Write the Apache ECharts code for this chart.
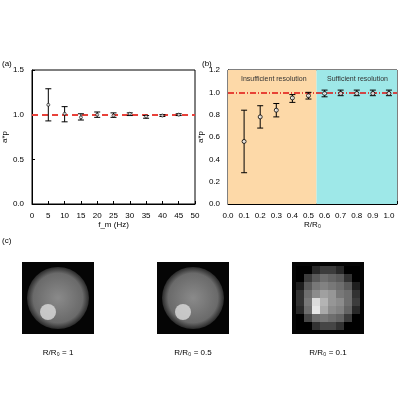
<!DOCTYPE html><html><head><meta charset="utf-8"><script src="https://cdn.jsdelivr.net/npm/echarts@6/dist/echarts.min.js"></script>
<style>body{margin:0}#c{width:400px;height:400px}</style></head><body><div id="c"></div><script>
const fA=[5,10,15,20,25,30,35,40,45];
const meanA=[1.11,1.01,0.97,1.00,0.99,1.01,0.98,0.99,1.00];
const lowA=[0.93,0.92,0.94,0.97,0.97,0.99,0.96,0.98,0.99];
const highA=[1.29,1.09,1.01,1.03,1.02,1.02,0.99,1.00,1.01];
const rB=[0.1,0.2,0.3,0.4,0.5,0.6,0.7,0.8,0.9,1.0];
const meanB=[0.56,0.78,0.84,0.95,0.97,0.99,0.99,0.99,0.99,0.99];
const lowB=[0.28,0.68,0.78,0.91,0.94,0.96,0.97,0.97,0.97,0.97];
const highB=[0.84,0.88,0.90,0.98,1.00,1.02,1.02,1.02,1.02,1.02];
const imgLabels=['R/R₀ = 1','R/R₀ = 0.5','R/R₀ = 0.1'];
const ch=echarts.init(document.getElementById('c'));
const fnt={fontFamily:'Liberation Sans',fontSize:8,color:'#000'};
function err(xs,lo,hi,gi){return{type:'custom',xAxisIndex:gi,yAxisIndex:gi,data:xs.map((x,i)=>[x,lo[i],hi[i]]),z:5,
 renderItem:(p,api)=>{const a=api.coord([api.value(0),api.value(1)]),b=api.coord([api.value(0),api.value(2)]);const w=3;
 const st={stroke:'#000',lineWidth:1};return{type:'group',children:[
 {type:'line',shape:{x1:a[0],y1:a[1],x2:b[0],y2:b[1]},style:st},
 {type:'line',shape:{x1:a[0]-w,y1:a[1],x2:a[0]+w,y2:a[1]},style:st},
 {type:'line',shape:{x1:b[0]-w,y1:b[1],x2:b[0]+w,y2:b[1]},style:st}]};}};}
function ax(o){return Object.assign({axisLine:{onZero:false,lineStyle:{color:'#000'}},axisTick:{inside:true,length:3,lineStyle:{color:'#000'}},axisLabel:Object.assign({},fnt),splitLine:{show:false},nameTextStyle:Object.assign({},fnt),nameLocation:'middle'},o);}
const imgs=[];const cx=[58,193,328];
cx.forEach((x,k)=>{
 imgs.push({type:'rect',shape:{x:x-36,y:262,width:72,height:72},style:{fill:'#050505'}});
 if(k<2){imgs.push({type:'circle',shape:{cx:x,cy:298,r:31},style:{fill:{type:'radial',x:0.5,y:0.5,r:0.5,colorStops:[{offset:0,color:'#8a8a8a'},{offset:0.8,color:'#6a6a6a'},{offset:1,color:'#2a2a2a'}]}}});
  imgs.push({type:'circle',shape:{cx:x-10,cy:312,r:8},style:{fill:'#dcdcdc',opacity:0.8}});}
 else{const g=[[0,0,40,60,60,40,0,0],[0,60,90,110,100,90,50,0],[30,90,120,130,120,110,90,30],[50,110,140,160,150,120,110,50],[50,120,220,180,150,140,110,60],[40,110,230,170,140,130,100,40],[0,70,110,120,110,100,60,0],[0,0,50,70,70,50,0,0]];
  g.forEach((row,i)=>row.forEach((v,j)=>imgs.push({type:'rect',shape:{x:x-32+j*8,y:266+i*8,width:8,height:8},style:{fill:`rgb(${v},${v},${v})`}})));}
 imgs.push({type:'text',x:x,y:349,style:{text:imgLabels[k],font:'8px Liberation Sans',fill:'#000',align:'center'}});
});
imgs.push({type:'text',x:2,y:60,style:{text:'(a)',font:'8px Liberation Sans'}},{type:'text',x:202,y:60,style:{text:'(b)',font:'8px Liberation Sans'}},{type:'text',x:2,y:237,style:{text:'(c)',font:'8px Liberation Sans'}},
 {type:'text',x:241,y:76,z:100,style:{text:'Insufficient resolution',font:'7px Liberation Sans',fill:'#333'}},{type:'text',x:327,y:76,z:100,style:{text:'Sufficient resolution',font:'7px Liberation Sans',fill:'#333'}});
ch.setOption({animation:false,
grid:[{left:28,top:70,width:167,height:134,show:true,borderColor:'#000',borderWidth:1},{left:228,top:70,width:170,height:134,show:true,borderColor:'#000',borderWidth:1}],
xAxis:[ax({gridIndex:0,min:0,max:50,interval:5,name:'f_m (Hz)',nameGap:14}),ax({gridIndex:1,min:0,max:1.05,interval:0.1,name:'R/R₀',nameGap:14,axisLabel:Object.assign({},fnt,{formatter:v=>v>1.01?'':v.toFixed(1)})})],
yAxis:[ax({gridIndex:0,min:0,max:1.5,interval:0.5,name:'a*p',nameGap:18,axisLabel:Object.assign({},fnt,{formatter:v=>v.toFixed(1)})}),ax({gridIndex:1,min:0,max:1.2,interval:0.2,name:'a*p',nameGap:18,axisLabel:Object.assign({},fnt,{formatter:v=>v.toFixed(1)})})],
graphic:imgs,
series:[err(fA,lowA,highA,0),
{type:'scatter',xAxisIndex:0,yAxisIndex:0,data:fA.map((x,i)=>[x,meanA[i]]),symbolSize:3,itemStyle:{color:'#fff',borderColor:'#000',borderWidth:0.8},z:6,
 markLine:{silent:true,symbol:'none',label:{show:false},lineStyle:{color:'#e8413a',type:[6,4],width:2},data:[{yAxis:1}]}},
err(rB,lowB,highB,1),
{type:'scatter',xAxisIndex:1,yAxisIndex:1,data:rB.map((x,i)=>[x,meanB[i]]),symbolSize:4,itemStyle:{color:'#fff',borderColor:'#000',borderWidth:1},z:6,
 markArea:{silent:true,data:[[{xAxis:0,itemStyle:{color:'#fdd9a8'}},{xAxis:0.55}],[{xAxis:0.55,itemStyle:{color:'#9ee8e8'}},{xAxis:1.05}]]},
 markLine:{silent:true,symbol:'none',label:{show:false},lineStyle:{color:'#e01010',type:[6,2,1,2],width:1.5},data:[{yAxis:1}]}}]});
</script></body></html>
